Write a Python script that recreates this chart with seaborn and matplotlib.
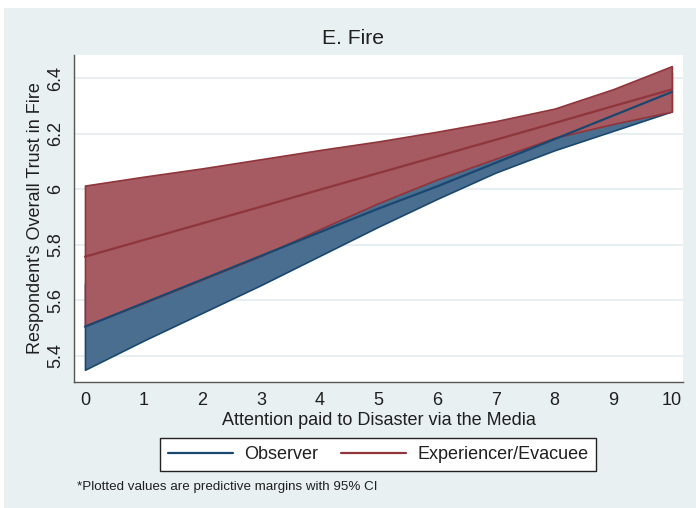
import matplotlib
matplotlib.use("Agg")
import matplotlib.pyplot as plt
from matplotlib.lines import Line2D
from matplotlib.patches import Rectangle
import numpy as np
import pandas as pd
import seaborn as sns

# Predictive margins of trust in the fire service by media attention
attention = [0, 1, 2, 3, 4, 5, 6, 7, 8, 9, 10]

observer_mean = [5.505, 5.590, 5.675, 5.760, 5.845, 5.930, 6.010, 6.095, 6.180, 6.265, 6.350]
observer_lo = [5.350, 5.455, 5.555, 5.655, 5.760, 5.865, 5.965, 6.060, 6.140, 6.210, 6.280]
observer_hi = [5.660, 5.725, 5.790, 5.860, 5.930, 5.990, 6.060, 6.130, 6.220, 6.320, 6.420]

evacuee_mean = [5.757, 5.817, 5.877, 5.937, 5.998, 6.058, 6.118, 6.178, 6.238, 6.299, 6.359]
evacuee_lo = [5.509, 5.590, 5.675, 5.760, 5.856, 5.950, 6.035, 6.110, 6.185, 6.235, 6.279]
evacuee_hi = [6.013, 6.045, 6.075, 6.108, 6.141, 6.172, 6.207, 6.245, 6.290, 6.360, 6.443]

groups = ["Observer", "Experiencer/Evacuee"]
y_ticks = [5.4, 5.6, 5.8, 6.0, 6.2, 6.4]
y_tick_labels = ["5.4", "5.6", "5.8", "6", "6.2", "6.4"]

title = "E. Fire"
x_label = "Attention paid to Disaster via the Media"
y_label = "Respondent's Overall Trust in Fire"
note = "*Plotted values are predictive margins with 95% CI"

line_colors = {"Observer": "#1a476f", "Experiencer/Evacuee": "#90353b"}
fill_colors = {"Observer": "#4a6e8f", "Experiencer/Evacuee": "#a55b61"}

df = pd.DataFrame({
    "attention": attention * 2,
    "margin": observer_mean + evacuee_mean,
    "group": [groups[0]] * len(attention) + [groups[1]] * len(attention),
})

sns.set_theme(style="white")
plt.rcParams["font.family"] = ["Liberation Sans", "DejaVu Sans"]
text_color = "#1f1f1f"

fig = plt.figure(figsize=(6.96, 5.08), dpi=100, facecolor="white")
fig.patches.append(Rectangle((4 / 696, 0), 1, 500 / 508, transform=fig.transFigure,
                             facecolor="#e9f0f2", edgecolor="none", zorder=-10))
ax = fig.add_axes([74 / 696, 126 / 508, 609 / 696, 327 / 508])
ax.set_zorder(1)
ax.set_facecolor("white")

# confidence bands: observer underneath, evacuee on top
ax.fill_between(attention, observer_lo, observer_hi, facecolor=fill_colors["Observer"],
                edgecolor=line_colors["Observer"], linewidth=1.2, zorder=2)
ax.fill_between(attention, evacuee_lo, evacuee_hi, facecolor=fill_colors["Experiencer/Evacuee"],
                edgecolor=line_colors["Experiencer/Evacuee"], linewidth=1.2, zorder=3)

sns.lineplot(data=df, x="attention", y="margin", hue="group", hue_order=groups,
             palette=line_colors, linewidth=1.6, legend=False, ax=ax, zorder=4)

ax.set_xlim(-0.187, 10.19)
ax.set_ylim(5.306, 6.483)
ax.set_xticks(attention)
ax.set_xticklabels([str(v) for v in attention], fontsize=13, color=text_color)
ax.set_yticks(y_ticks)
ax.set_yticklabels(y_tick_labels, fontsize=13, color=text_color, rotation=90, va="center")
ax.grid(axis="y", color="#e6eef1", linewidth=1.3, zorder=1)
ax.grid(axis="x", visible=False)
ax.set_axisbelow(True)

for side in ("top", "right"):
    ax.spines[side].set_visible(False)
for side in ("left", "bottom"):
    ax.spines[side].set_color("#555555")
    ax.spines[side].set_linewidth(1.0)
ax.tick_params(axis="both", direction="out", length=4.5, width=1.0, color="#555555", pad=2.5)

ax.set_xlabel(x_label, fontsize=13, color=text_color, labelpad=2.5)
ax.set_ylabel(y_label, fontsize=13, color=text_color, labelpad=2)

fig.text(353 / 696, 1 - 38 / 508, title, ha="center", va="center", fontsize=15.2, color=text_color)

handles = [Line2D([], [], color=line_colors[g], linewidth=1.6) for g in groups]
leg = fig.legend(handles, groups, loc="center", bbox_to_anchor=(378 / 696, 1 - 454.5 / 508),
                 bbox_transform=fig.transFigure, ncol=2, fontsize=13, frameon=True,
                 fancybox=False, framealpha=1, handlelength=3.6, handletextpad=0.6,
                 columnspacing=1.3, borderpad=0.45)
leg.get_frame().set_facecolor("white")
leg.get_frame().set_edgecolor("#222222")
leg.get_frame().set_linewidth(1.0)
for t in leg.get_texts():
    t.set_color(text_color)

fig.text(77 / 696, 1 - 487 / 508, note, ha="left", va="center", fontsize=9.6, color=text_color)

fig.savefig("out.png", dpi=100, facecolor=fig.get_facecolor())
